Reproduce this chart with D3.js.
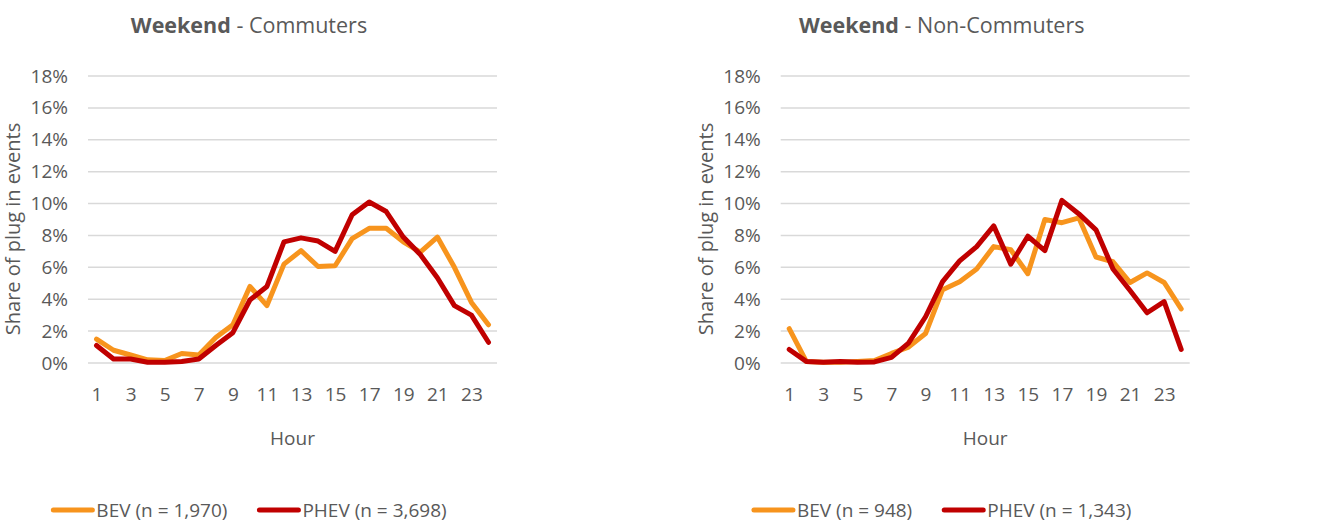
<!DOCTYPE html>
<html>
<head>
<meta charset="utf-8">
<script src="https://cdn.jsdelivr.net/npm/d3@7"></script>
<style>
    body { margin: 0; background: #fff; }
    text { font-family: "Open Sans", sans-serif; fill: #595959; }
</style>
</head>
<body>
<script>
// Hours on the x axis
const hours = d3.range(1, 25);
const hourTicks = [1, 3, 5, 7, 9, 11, 13, 15, 17, 19, 21, 23];
const yTicks = [0, 2, 4, 6, 8, 10, 12, 14, 16, 18];

// Share of plug-in events (%) - Commuters
const commBEV = [1.5, 0.8, 0.5, 0.2, 0.15, 0.6, 0.5, 1.6, 2.4, 4.8, 3.6, 6.2, 7.05, 6.05, 6.1, 7.8, 8.45, 8.45, 7.6, 6.95, 7.9, 6.0, 3.8, 2.4];
const commPHEV = [1.1, 0.25, 0.25, 0.05, 0.05, 0.1, 0.25, 1.1, 1.9, 3.95, 4.8, 7.6, 7.85, 7.65, 7.0, 9.3, 10.1, 9.5, 7.9, 6.8, 5.35, 3.6, 3.0, 1.3];

// Share of plug-in events (%) - Non-Commuters
const nonBEV = [2.15, 0.1, 0.05, 0.05, 0.1, 0.15, 0.6, 1.0, 1.85, 4.6, 5.1, 5.9, 7.3, 7.1, 5.6, 9.0, 8.8, 9.1, 6.65, 6.35, 5.05, 5.65, 5.05, 3.4];
const nonPHEV = [0.85, 0.1, 0.05, 0.1, 0.05, 0.07, 0.35, 1.25, 2.9, 5.1, 6.4, 7.3, 8.6, 6.2, 7.95, 7.05, 10.2, 9.35, 8.35, 5.9, 4.55, 3.15, 3.85, 0.85];

const panels = [
    { bold: "Weekend", rest: " - Commuters", bev: commBEV, phev: commPHEV, bevLabel: "BEV (n = 1,970)", phevLabel: "PHEV (n = 3,698)", left: 88 },
    { bold: "Weekend", rest: " - Non-Commuters", bev: nonBEV, phev: nonPHEV, bevLabel: "BEV (n = 948)", phevLabel: "PHEV (n = 1,343)", left: 780.7 }
];

const width = 1343, height = 522;
const plotW = 409, plotTop = 76, plotBottom = 363;
const colBEV = "#F7941D", colPHEV = "#C00000";

const svg = d3.select("body").append("svg")
    .attr("width", width)
    .attr("height", height);

panels.forEach(p => {
    const g = svg.append("g").attr("transform", `translate(${p.left},0)`);

    const x = d3.scalePoint().domain(hours).range([0, plotW]).padding(0.5);
    const y = d3.scaleLinear().domain([0, 18]).range([plotBottom, plotTop]);

    // Gridlines
    g.selectAll(".grid")
        .data(yTicks)
        .enter().append("line")
        .attr("x1", 0).attr("x2", plotW)
        .attr("y1", d => y(d)).attr("y2", d => y(d))
        .style("stroke", "#D9D9D9")
        .style("stroke-width", "1.5px");

    // Y axis labels
    const yAxis = g.append("g")
        .call(d3.axisLeft(y).tickValues(yTicks).tickFormat(d => d + "%").tickSize(0).tickPadding(20));
    yAxis.select(".domain").remove();
    yAxis.selectAll("text").style("font-size", "19px").style("font-family", "Open Sans").attr("fill", "#595959");

    // X axis labels
    const xAxis = g.append("g")
        .attr("transform", `translate(0,${plotBottom})`)
        .call(d3.axisBottom(x).tickValues(hourTicks).tickSize(0).tickPadding(25));
    xAxis.select(".domain").remove();
    xAxis.selectAll("text").style("font-size", "19px").style("font-family", "Open Sans").attr("fill", "#595959");

    // Axis titles
    g.append("text")
        .attr("x", plotW / 2)
        .attr("y", 445)
        .attr("text-anchor", "middle")
        .style("font-size", "19px")
        .text("Hour");

    g.append("text")
        .attr("transform", `translate(${-68},${229}) rotate(-90)`)
        .attr("text-anchor", "middle")
        .style("font-size", "20px")
        .text("Share of plug in events");

    // Lines
    const line = d3.line()
        .x((d, i) => x(hours[i]))
        .y(d => y(d));

    [[p.bev, colBEV], [p.phev, colPHEV]].forEach(([vals, col]) => {
        g.append("path")
            .datum(vals)
            .attr("d", line)
            .style("fill", "none")
            .style("stroke", col)
            .style("stroke-width", "5px")
            .style("stroke-linejoin", "round")
            .style("stroke-linecap", "round");
    });

    // Title
    const cx = plotW / 2 - 43.5;
    const title = g.append("text")
        .attr("x", cx)
        .attr("y", 33)
        .attr("text-anchor", "middle")
        .style("font-size", "21.5px");
    title.append("tspan").style("font-weight", "bold").text(p.bold);
    title.append("tspan").text(p.rest);

    // Legend
    const leg = g.append("g");
    let lx = 0;
    [[p.bevLabel, colBEV], [p.phevLabel, colPHEV]].forEach(([label, col], i) => {
        if (i > 0) lx += 30;
        leg.append("line")
            .attr("x1", lx + 2).attr("x2", lx + 41)
            .attr("y1", 510).attr("y2", 510)
            .style("stroke", col)
            .style("stroke-width", "5px")
            .style("stroke-linecap", "round");
        const t = leg.append("text")
            .attr("x", lx + 45)
            .attr("y", 517)
            .style("font-size", "19px")
            .text(label);
        lx += 45 + t.node().getComputedTextLength();
    });
    leg.attr("transform", `translate(${cx - lx / 2},0)`);
});
</script>
</body>
</html>
